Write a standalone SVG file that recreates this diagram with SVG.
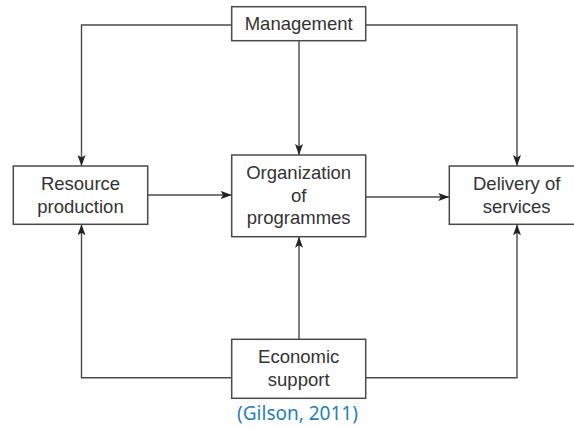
<svg xmlns="http://www.w3.org/2000/svg" width="574" height="427" viewBox="0 0 574 427">
<style>
.box{fill:#fff;stroke:#4a4a4a;stroke-width:1.5}
.t{font-family:"Liberation Sans",Arial,sans-serif;font-size:18.5px;fill:#333;text-anchor:middle}
.c{fill:none;stroke:#4a4a4a;stroke-width:1.4}
.cite{font-family:"Noto Sans","Open Sans",sans-serif;font-size:19px;fill:#1f7fc1;text-anchor:middle}
</style>
<defs>
<marker id="ah" markerUnits="userSpaceOnUse" markerWidth="12" markerHeight="8" refX="11" refY="4" orient="auto">
<path d="M0,0 L11,4 L0,8 L2.5,4 z" fill="#222"/>
</marker>
</defs>
<rect width="574" height="427" fill="#fff"/>
<g id="connectors">
<path class="c" d="M231.7,25 H81.5 V166" marker-end="url(#ah)"/>
<path class="c" d="M365.7,25 H517 V166" marker-end="url(#ah)"/>
<path class="c" d="M299,40.7 V155" marker-end="url(#ah)"/>
<path class="c" d="M147.7,195 H231.7" marker-end="url(#ah)"/>
<path class="c" d="M365.7,197 H449.3" marker-end="url(#ah)"/>
<path class="c" d="M299,339.3 V236.7" marker-end="url(#ah)"/>
<path class="c" d="M231.7,377.7 H81.5 V224.3" marker-end="url(#ah)"/>
<path class="c" d="M365.7,377.7 H517 V224.3" marker-end="url(#ah)"/>
</g>
<g id="management">
<rect class="box" x="231.7" y="6.7" width="134" height="34"/>
<text class="t" x="298.7" y="30">Management</text>
</g>
<g id="organization">
<rect class="box" x="231.7" y="155" width="134" height="81.7"/>
<text class="t" x="298.7" y="179.3">Organization</text>
<text class="t" x="298.7" y="201.5">of</text>
<text class="t" x="298.7" y="223.5">programmes</text>
</g>
<g id="resource">
<rect class="box" x="13.3" y="166" width="134.4" height="58.3"/>
<text class="t" x="80.5" y="189.5">Resource</text>
<text class="t" x="80.5" y="213">production</text>
</g>
<g id="delivery">
<rect class="box" x="449.3" y="166" width="135" height="58.3"/>
<text class="t" x="516.7" y="190">Delivery of</text>
<text class="t" x="516.7" y="213">services</text>
</g>
<g id="economic">
<rect class="box" x="231.7" y="339.3" width="134" height="59"/>
<text class="t" x="298.7" y="363.3">Economic</text>
<text class="t" x="298.7" y="386">support</text>
</g>
<text class="cite" x="297.5" y="420">(Gilson, 2011)</text>
</svg>
